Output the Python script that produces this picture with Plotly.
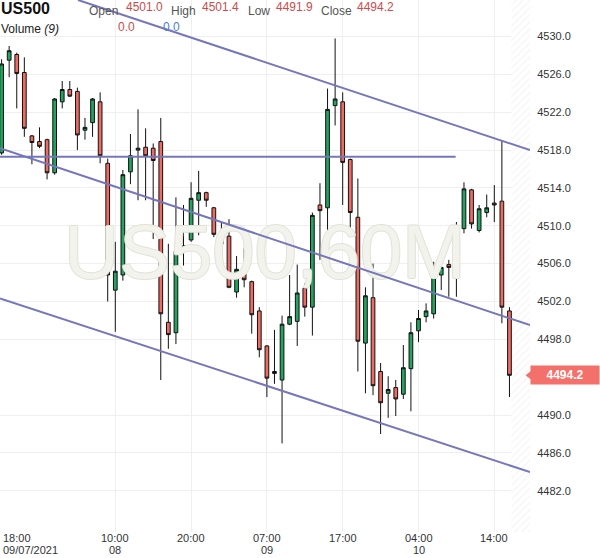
import plotly.graph_objects as go

# ---- data (hourly candles, index 0..67) ----
opens = [4517.7, 4527.5, 4528.1, 4526.2, 4519.5, 4518.9, 4519.1, 4515.6, 4523.1, 4524.4,
         4524.2, 4520.1, 4520.9, 4523.1, 4516.6, 4503.2, 4504.8, 4515.7, 4518.0, 4518.3,
         4518.2, 4518.9, 4499.8, 4498.7, 4507.7, 4508.5, 4512.7, 4513.5, 4511.9, 4509.2,
         4508.9, 4503.0, 4504.9, 4504.1, 4501.0, 4497.3, 4494.6, 4493.7, 4499.6, 4499.9,
         4503.4, 4501.4, 4512.2, 4511.9, 4522.7, 4523.1, 4517.0, 4510.9, 4497.6, 4502.4,
         4494.6, 4492.3, 4492.9, 4492.2, 4494.9, 4498.9, 4500.4, 4500.7, 4504.8, 4505.9,
         4505.4, 4509.7, 4513.8, 4509.5, 4511.4, 4512.4, 4512.6, 4501.0]
highs = [4527.6, 4529.0, 4528.3, 4527.8, 4519.6, 4520.4, 4519.2, 4523.5, 4525.3, 4525.3,
         4524.6, 4521.4, 4523.5, 4524.1, 4517.1, 4508.3, 4515.9, 4519.7, 4522.3, 4520.3,
         4518.7, 4521.4, 4508.1, 4513.0, 4512.2, 4514.6, 4515.8, 4513.6, 4512.0, 4510.4,
         4510.7, 4506.8, 4507.6, 4504.2, 4501.4, 4497.4, 4499.0, 4500.5, 4504.8, 4505.9,
         4503.9, 4511.4, 4514.5, 4524.5, 4529.8, 4524.1, 4517.1, 4515.0, 4503.5, 4506.0,
         4495.5, 4494.1, 4493.7, 4497.4, 4499.8, 4501.1, 4501.8, 4506.2, 4507.2, 4506.4,
         4510.4, 4514.6, 4513.9, 4512.2, 4513.3, 4514.3, 4519.0, 4501.4]
lows = [4517.5, 4525.7, 4522.4, 4519.4, 4516.5, 4518.2, 4514.9, 4515.4, 4522.4, 4523.6,
        4518.0, 4519.1, 4519.4, 4516.6, 4502.0, 4498.8, 4504.2, 4514.4, 4512.7, 4512.7,
        4508.6, 4493.7, 4497.0, 4497.5, 4505.8, 4508.3, 4509.0, 4512.0, 4508.8, 4507.3,
        4503.4, 4502.4, 4503.5, 4498.6, 4496.1, 4491.9, 4493.3, 4487.0, 4499.5, 4497.3,
        4500.4, 4498.4, 4506.4, 4509.1, 4520.6, 4512.2, 4509.3, 4494.6, 4492.3, 4492.1,
        4488.0, 4489.7, 4489.9, 4491.7, 4490.4, 4497.7, 4499.8, 4500.2, 4503.2, 4502.5,
        4502.5, 4509.2, 4509.7, 4509.3, 4510.9, 4510.4, 4499.7, 4491.9]
closes = [4527.1, 4528.5, 4526.1, 4520.3, 4518.8, 4518.4, 4515.6, 4523.4, 4524.4, 4523.7,
          4519.6, 4520.4, 4523.4, 4517.4, 4504.8, 4505.2, 4515.4, 4517.4, 4518.2, 4517.4,
          4516.9, 4500.7, 4498.5, 4507.3, 4507.9, 4512.9, 4513.5, 4512.7, 4509.1, 4508.1,
          4503.5, 4505.4, 4504.3, 4500.6, 4496.9, 4493.9, 4494.4, 4499.6, 4500.4, 4502.9,
          4501.4, 4511.1, 4511.6, 4522.3, 4523.4, 4516.7, 4511.4, 4497.8, 4502.6, 4493.1,
          4491.3, 4492.7, 4491.7, 4495.0, 4498.7, 4500.2, 4501.0, 4504.7, 4505.6, 4505.6,
          4509.9, 4513.9, 4510.2, 4511.8, 4511.9, 4512.2, 4501.4, 4494.2]
candle_idx = list(range(len(opens)))

# x-axis labels (candle index, time, date)
tick_idx = [15, 25, 35, 45, 55, 65]
tick_time = ["10:00", "20:00", "07:00", "17:00", "04:00", "14:00"]
tick_date = ["08", "", "09", "", "10", ""]
first_time = "18:00"
first_date = "09/07/2021"

# price axis (4494.0 sits under the last-price label)
y_ticks = [4482, 4486, 4490, 4498, 4502, 4506, 4510, 4514, 4518, 4522, 4526, 4530]

# drawn trend lines: (x0, y0, x1, y1) in candle index / price
upper_line = [10.08, 4533.86, 69.71, 4518.0]
middle_line = [-0.21, 4518.2, 69.71, 4499.5]
lower_line = [-0.21, 4502.33, 69.71, 4483.97]
horiz_line = [-0.21, 4517.3, 59.9, 4517.3]

header = {"Open": "4501.0", "High": "4501.4", "Low": "4491.9", "Close": "4494.2"}
last_price = 4494.2

X_RANGE = [-0.21, 69.71]
Y_RANGE = [4477.64, 4533.86]
PLOT_W, PLOT_H = 530, 532

FONT = "Liberation Sans, Arial, sans-serif"
LINE_COLOR = "#7676ba"
UP = "#23a35e"
DOWN = "#ee6b63"

fig = go.Figure()

# watermark (behind candles)
fig.add_trace(go.Scatter(
    x=[34.75], y=[4506.54], mode="text", text=["US500,60M"],
    textposition="middle center",
    textfont=dict(family=FONT, size=76, color="#f3f3ee",
                  shadow="1px 0 0 #e1e1d6, -1px 0 0 #e1e1d6, 0 1px 0 #e1e1d6, 0 -1px 0 #e1e1d6"),
    hoverinfo="skip", showlegend=False))

# hatched future zone
fig.add_trace(go.Bar(
    x=[(67.5 + X_RANGE[1]) / 2], y=[Y_RANGE[1] - Y_RANGE[0] + 2], base=[Y_RANGE[0] - 1],
    width=[X_RANGE[1] - 67.5 + 0.5],
    marker=dict(color="white", line=dict(width=0),
                pattern=dict(shape="/", fgcolor="#e4e4e4", bgcolor="white", size=5, solidity=0.2)),
    hoverinfo="skip", showlegend=False))

fig.add_trace(go.Candlestick(
    x=candle_idx, open=opens, high=highs, low=lows, close=closes,
    increasing=dict(fillcolor=UP, line=dict(color="#111111", width=1)),
    decreasing=dict(fillcolor=DOWN, line=dict(color="#111111", width=1)),
    whiskerwidth=0, hoverinfo="skip", showlegend=False))

for ln in (upper_line, middle_line, lower_line, horiz_line):
    fig.add_trace(go.Scatter(
        x=[ln[0], ln[2]], y=[ln[1], ln[3]], mode="lines",
        line=dict(color=LINE_COLOR, width=2), hoverinfo="skip", showlegend=False))

# last price arrow notch
fig.add_trace(go.Scatter(
    x=[X_RANGE[1]], y=[last_price], mode="markers",
    marker=dict(symbol="triangle-left", size=9, color="#f4716b"),
    cliponaxis=False, hoverinfo="skip", showlegend=False))

ann = []
def px(x):
    return x / PLOT_W
def py(y):
    return 1 - y / PLOT_H

# header
ann.append(dict(x=px(0), y=py(8), text="<b>US500</b>", font=dict(size=16, color="#111", family=FONT)))
hx = {"Open": (88, 125), "High": (170, 201), "Low": (247, 275), "Close": (320, 356)}
for k, v in header.items():
    lx, vx = hx[k]
    ann.append(dict(x=px(lx), y=py(11), text=k, font=dict(size=12, color="#555", family=FONT)))
    ann.append(dict(x=px(vx), y=py(7), text=v, font=dict(size=12, color="#cc4b4b", family=FONT)))
ann.append(dict(x=px(0), y=py(29), text="Volume <i>(9)</i>", font=dict(size=12, color="#222", family=FONT)))
ann.append(dict(x=px(117), y=py(27), text="0.0", font=dict(size=12, color="#cc4b4b", family=FONT)))
ann.append(dict(x=px(162), y=py(27), text="0.0", font=dict(size=12, color="#4a80cc", family=FONT)))
for a in ann:
    a.update(xref="paper", yref="paper", xanchor="left", yanchor="middle", showarrow=False, borderpad=0)

xl = []
xl.append(dict(x=px(2), y=py(538), text=first_time, xref="paper", xanchor="left"))
xl.append(dict(x=px(2), y=py(550), text=first_date, xref="paper", xanchor="left"))
for i, t, d in zip(tick_idx, tick_time, tick_date):
    xl.append(dict(x=i, y=py(538), text=t, xref="x", xanchor="center"))
    if d:
        xl.append(dict(x=i, y=py(550), text=d, xref="x", xanchor="center"))
for a in xl:
    a.update(yref="paper", yanchor="middle", showarrow=False, borderpad=0,
             font=dict(size=11, color="#333", family=FONT))
ann += xl

# last price label
ann.append(dict(x=1, xref="paper", xanchor="left", xshift=0, y=last_price, yref="y",
                yanchor="middle", text="<b>4494.2</b>", showarrow=False,
                bgcolor="#f4716b", font=dict(size=12, color="white", family=FONT),
                width=66, height=16, borderpad=1, align="center"))

fig.update_layout(
    width=600, height=558,
    margin=dict(l=0, r=600 - PLOT_W, t=0, b=558 - PLOT_H),
    paper_bgcolor="white", plot_bgcolor="white",
    showlegend=False, annotations=ann, boxgap=0.3,
    xaxis=dict(range=X_RANGE, tickvals=tick_idx, showticklabels=False, showgrid=True,
               gridcolor="#efefef", gridwidth=1, zeroline=False, showline=False,
               rangeslider=dict(visible=False), fixedrange=True),
    yaxis=dict(range=Y_RANGE, side="right", tickvals=y_ticks, tickformat=".1f",
               showgrid=True, gridcolor="#efefef", zeroline=False, showline=False,
               ticks="outside", ticklen=4, tickcolor="rgba(0,0,0,0)",
               tickfont=dict(size=11, color="#333", family=FONT), fixedrange=True),
)

fig.write_html(
    "out.html",
    config={"displayModeBar": False},
    post_script="document.body.style.margin='0';document.body.style.overflow='hidden';",
)
